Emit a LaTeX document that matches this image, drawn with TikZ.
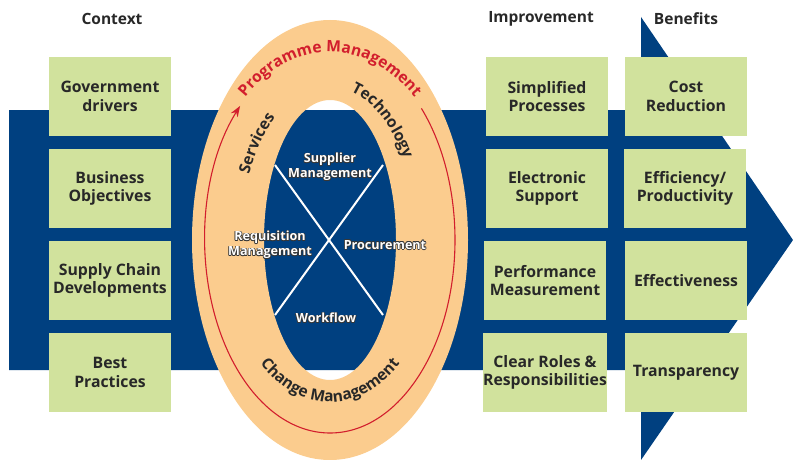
\documentclass[tikz,border=0pt]{standalone}
\usepackage{fontspec}
\setmainfont{Open Sans}
\usetikzlibrary{decorations.text, arrows.meta}
\definecolor{navy}{RGB}{0,64,128}
\definecolor{boxgreen}{RGB}{209,226,157}
\definecolor{peach}{RGB}{251,204,142}
\definecolor{ringred}{RGB}{210,30,45}
\definecolor{txt}{RGB}{40,40,40}
\definecolor{olgray}{RGB}{55,55,55}
\newcommand{\olabel}[3]{%
  \foreach \dx/\dy in {-0.7/0,0.7/0,0/-0.7,0/0.7,-0.5/-0.5,0.5/0.5,-0.5/0.5,0.5/-0.5}{%
    \node[inlbl, text=olgray, xshift=\dx pt, yshift=\dy pt] at (#2) {#3};}%
  \node[inlbl, text=white] (#1) at (#2) {#3};}
\begin{document}
\begin{tikzpicture}[x=1pt,y=1pt,
  box/.style={fill=boxgreen, minimum width=122pt, minimum height=79pt, inner sep=0pt, align=center, font=\fontsize{15.8}{18.3}\selectfont\bfseries, text=txt},
  head/.style={font=\fontsize{15.5}{18}\selectfont\bfseries, text=txt, inner sep=0pt},
  inlbl/.style={font=\fontsize{12.6}{15}\selectfont\bfseries, align=center, inner sep=0pt},
  ringtext/.style={decorate, decoration={text along path, text align=center, text={|\fontsize{15.6}{16}\selectfont\bfseries\color{#1}|\ringstr}}}]
\useasboundingbox (0,0) rectangle (793,-460);
% arrow band
\fill[navy] (9,-110) -- (641,-110) -- (641,-17) -- (793,-240) -- (641,-460) -- (641,-370) -- (9,-370) -- cycle;
% headers
\node[head] (hctx) at (112,-19) {Context};
\node[head] (himp) at (541,-19) {Improvement};
\node[head] (hben) at (686,-19) {Benefits};
% context boxes
\node[box] (c1) at (110,-96.5) {Government\\drivers};
\node[box] (c2) at (110,-188.5) {Business\\Objectives};
\node[box] (c3) at (110,-280.5) {Supply Chain\\Developments};
\node[box] (c4) at (110,-372.5) {Best\\Practices};
% improvement boxes
\node[box] (i1) at (547,-96.5) {Simplified\\Processes};
\node[box] (i2) at (547,-188.5) {Electronic\\Support};
\node[box] (i3) at (545,-280.5) {Performance\\Measurement};
\node[box] (i4) at (545,-372.5) {Clear Roles \&\\Responsibilities};
% benefit boxes
\node[box] (b1) at (686,-96.5) {Cost\\Reduction};
\node[box] (b2) at (685,-188.5) {Efficiency/\\Productivity};
\node[box] (b3) at (686,-280.5) {Effectiveness};
\node[box] (b4) at (686,-372.5) {Transparency};
% ring
\coordinate (c) at (330,-240);
\fill[peach, even odd rule] (c) ellipse[x radius=138, y radius=220] (c) ellipse[x radius=66, y radius=140];
\draw[ringred, line width=1.1pt, -{Stealth[length=11pt,width=8pt]}] (c) ++(43:125 and 193) arc[start angle=43, end angle=-224, x radius=125, y radius=193];
% cross
\coordinate (x1) at (275,-165);
\coordinate (x2) at (383,-315);
\coordinate (x3) at (383,-165);
\coordinate (x4) at (275,-315);
\draw[white, line width=2pt] (x1) -- (x2) (x3) -- (x4);
% inner labels
\olabel{sup}{330,-167}{Supplier\\Management}
\olabel{req}{270,-245}{Requisition\\Management}
\olabel{pro}{385,-245}{Procurement}
\olabel{wf}{326,-318}{Workflow}
% ring texts
\def\ringstr{Programme Management}
\path[ringtext=ringred] (c) ++(150:130 and 188) arc[start angle=150, end angle=30, x radius=130, y radius=188];
\def\ringstr{Technology}
\path[ringtext=txt] (c) ++(92:87 and 153) arc[start angle=92, end angle=22, x radius=87, y radius=153];
\def\ringstr{Services}
\path[ringtext=txt] (c) ++(172:89 and 156) arc[start angle=172, end angle=104, x radius=89, y radius=156];
\def\ringstr{Change Management}
\path[ringtext=txt] (c) ++(200:108 and 162) arc[start angle=200, end angle=340, x radius=108, y radius=162];
\end{tikzpicture}
\end{document}
